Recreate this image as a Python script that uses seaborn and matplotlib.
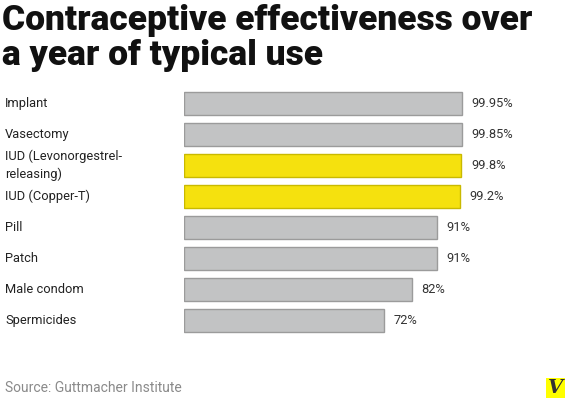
import seaborn as sns
import matplotlib.pyplot as plt
import pandas as pd

# data
methods = ["Implant", "Vasectomy", "IUD (Levonorgestrel-\nreleasing)", "IUD (Copper-T)",
           "Pill", "Patch", "Male condom", "Spermicides"]
effectiveness = [99.95, 99.85, 99.8, 99.2, 91, 91, 82, 72]
value_labels = ["99.95%", "99.85%", "99.8%", "99.2%", "91%", "91%", "82%", "72%"]
highlight = [False, False, True, True, False, False, False, False]

df = pd.DataFrame({"method": methods, "eff": effectiveness, "hl": highlight})

sns.set_style("white")
plt.rcParams['font.family'] = ['Roboto', 'DejaVu Sans']

fig = plt.figure(figsize=(5.67, 4.01), dpi=100)
ax = fig.add_axes([0.3245, 0.1608, 0.6375, 0.621])

palette = {False: "#c2c3c4", True: "#f5e10e"}
sns.barplot(data=df, x="eff", y="method", hue="hl", palette=palette, dodge=False,
            legend=False, width=0.74, saturation=1, ax=ax)

# edge colours by bar position
edges = {False: "#9b9b9b", True: "#c9b900"}
for patch in ax.patches:
    idx = int(round(patch.get_y() + patch.get_height() / 2))
    if 0 <= idx < len(highlight):
        patch.set_edgecolor(edges[highlight[idx]])
        patch.set_linewidth(1.0)

for i, (v, lab) in enumerate(zip(effectiveness, value_labels)):
    ax.text(v + 3.5, i, lab, va="center", ha="left", fontsize=9.3, color="#333333")

ax.set_xlim(0, 130)
ax.set_ylim(7.5, -0.5)
ax.set_xlabel("")
ax.set_ylabel("")
ax.set_xticks([])
ax.set_yticks([])
for s in ax.spines.values():
    s.set_visible(False)

# category labels at the left edge of the figure
for i, m in enumerate(methods):
    ax.text(-179 / 2.781, i, m, va="center", ha="left", fontsize=9.3, color="#222222",
            linespacing=1.4)

fig.text(0.004, 0.924, "Contraceptive effectiveness over", fontsize=25.5,
         fontweight="black", color="#111111", va="baseline", ha="left")
fig.text(0.004, 0.838, "a year of typical use", fontsize=25.5,
         fontweight="black", color="#111111", va="baseline", ha="left")

fig.text(0.009, 0.022, "Source: Guttmacher Institute", fontsize=10, color="#8a8a8a",
         va="baseline", ha="left")

# small logo mark
fig.patches.append(plt.Rectangle((0.963, 0.008), 0.034, 0.050, transform=fig.transFigure,
                                 facecolor="#ffff00", edgecolor="none"))
fig.text(0.980, 0.033, "V", fontsize=14, fontweight="bold", style="italic",
         family="DejaVu Serif", color="#333333", ha="center", va="center")

fig.savefig("out.png", dpi=100)
